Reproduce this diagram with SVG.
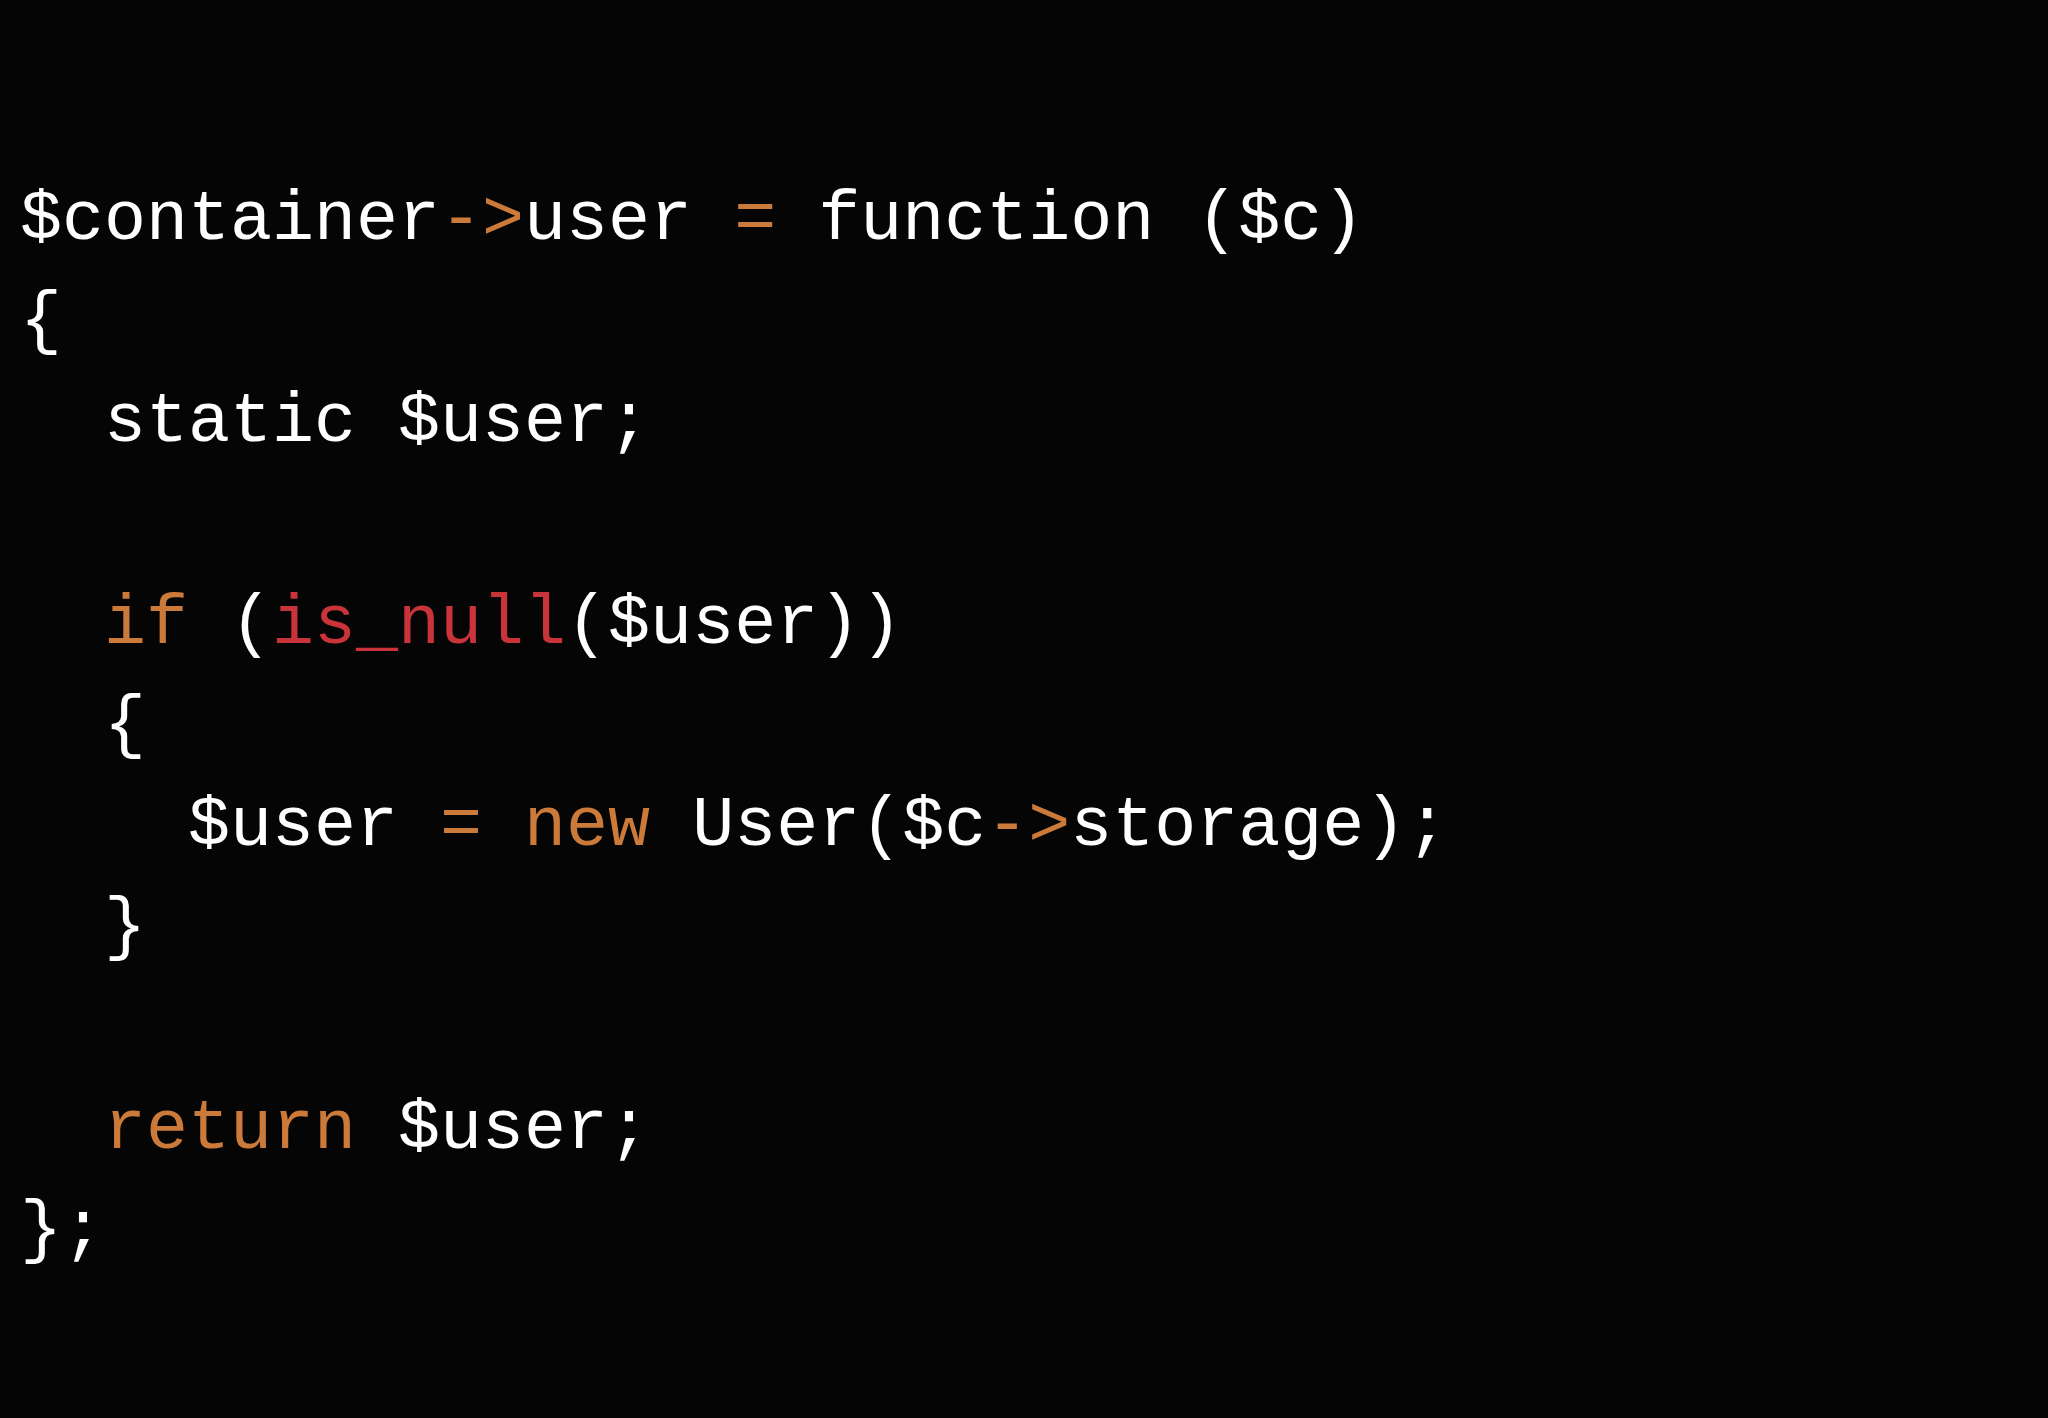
<svg xmlns="http://www.w3.org/2000/svg" width="2048" height="1418" viewBox="0 0 2048 1418">
<style>
text{font-family:"Liberation Mono","DejaVu Sans Mono",monospace;font-size:70px;fill:#ffffff;white-space:pre}
.o{fill:#cc7a3a}
.r{fill:#c8343a}
</style>
<rect width="2048" height="1418" fill="#050505"/>
<g id="code" xml:space="preserve">
<text x="20" y="239">$container<tspan class="o">-&gt;</tspan>user <tspan class="o">=</tspan> function ($c)</text>
<text x="20" y="340">{</text>
<text x="20" y="441">  static $user;</text>
<text x="20" y="643">  <tspan class="o">if</tspan> (<tspan class="r">is_null</tspan>($user))</text>
<text x="20" y="744">  {</text>
<text x="20" y="845">    $user <tspan class="o">=</tspan> <tspan class="o">new</tspan> User($c<tspan class="o">-&gt;</tspan>storage);</text>
<text x="20" y="946">  }</text>
<text x="20" y="1148">  <tspan class="o">return</tspan> $user;</text>
<text x="20" y="1249">};</text>
</g>
</svg>
